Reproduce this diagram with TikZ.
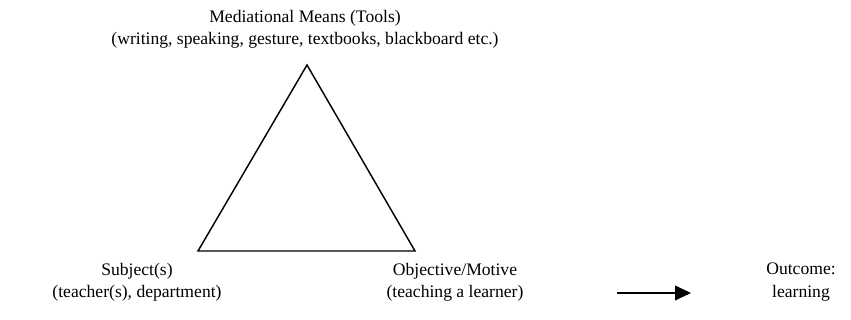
\documentclass[tikz,border=0pt]{standalone}
\usepackage{fontspec}
\setmainfont{Liberation Serif}
\usetikzlibrary{arrows.meta}
\tikzset{
 act label/.style={font=\fontsize{13.2}{16.8}\selectfont,align=center,inner sep=0pt},
 act side/.style={line width=1.1pt,line join=miter},
 act arrow/.style={line width=1.3pt,-{Triangle[length=12pt,width=11pt]}}
}

\begin{document}
\begin{tikzpicture}[x=0.75pt,y=-0.75pt]
 \useasboundingbox (0,0) rectangle (851,320);
 \coordinate (v1) at (307,65);
 \coordinate (v2) at (198,251);
 \coordinate (v3) at (415,251);
 \node[act label] (means) at (305,29)
   {Mediational Means (Tools)\\(writing, speaking, gesture, textbooks, blackboard etc.)};
 \node[act label] (subject) at (137,282) {Subject(s)\\(teacher(s), department)};
 \node[act label] (object) at (455,282) {Objective/Motive\\(teaching a learner)};
 \node[act label] (outcome) at (801,282) {Outcome:\\learning};

 \draw[act side] (v1)--(v2)--(v3)--cycle;
 \coordinate (a1) at (617,293);
 \coordinate (a2) at (691,293);
 \draw[act arrow] (a1)--(a2);
\end{tikzpicture}
\end{document}
